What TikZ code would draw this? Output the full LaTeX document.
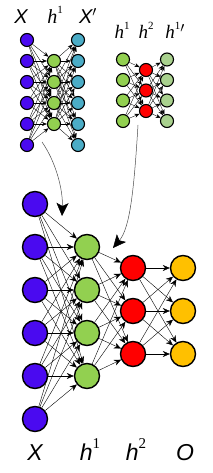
\documentclass[tikz,border=0pt]{standalone}
\usepackage{fontspec}
\setmainfont{Liberation Serif}
\setsansfont{Liberation Sans}
\usetikzlibrary{arrows.meta}
\definecolor{cblue}{HTML}{4A0AF0}
\definecolor{ccyan}{HTML}{4BACC6}
\definecolor{cgreen}{HTML}{92D050}
\definecolor{clgreen}{HTML}{A9D18E}
\definecolor{cred}{HTML}{FF0000}
\definecolor{cyel}{HTML}{FFC000}
\newcommand\mysup[2]{\raisebox{0.5em}{\fontsize{#1}{#1}\selectfont\rmfamily\upshape #2}}
\tikzset{
  sn/.style={circle,draw=black,line width=1.1pt,minimum size=13pt,inner sep=0pt},
  bn/.style={circle,draw=black,line width=1.4pt,minimum size=25pt,inner sep=0pt},
  sedge/.style={line width=0.35pt,-{Stealth[length=5pt,width=4pt]}},
  bedge/.style={line width=0.4pt,-{Stealth[length=7pt,width=6pt]}},
  bigarrow/.style={line width=0.5pt,draw=black!70,-{Stealth[length=13pt,width=12pt,inset=3pt,fill=black,color=black]}},
  lbl/.style={anchor=base,inner sep=0pt}
}
\begin{document}
\begin{tikzpicture}[x=1pt,y=-1pt]
\useasboundingbox (0,0) rectangle (212,473);
% top-left autoencoder
\foreach \i/\y in {1/40,2/61,3/82,4/103,5/124,6/145}{
  \node[sn,fill=cblue] (tx\i) at (27,\y) {};
  \node[sn,fill=ccyan] (txp\i) at (78,\y) {};
}
\foreach \i/\y in {1/61,2/82,3/103,4/124}
  \node[sn,fill=cgreen] (th\i) at (54,\y) {};
\foreach \i in {1,...,6}{\foreach \j in {1,...,4}{
  \draw[sedge] (tx\i) -- (th\j);
  \draw[sedge] (th\j) -- (txp\i);
}}
% top-right autoencoder
\foreach \i/\y in {1/59.5,2/80,3/100.5,4/121}{
  \node[sn,fill=cgreen] (rh\i) at (123,\y) {};
  \node[sn,fill=clgreen] (rhp\i) at (167,\y) {};
}
\foreach \i/\y in {1/70,2/90.5,3/111}
  \node[sn,fill=cred] (rk\i) at (146,\y) {};
\foreach \i in {1,...,4}{\foreach \j in {1,...,3}{
  \draw[sedge] (rh\i) -- (rk\j);
  \draw[sedge] (rk\j) -- (rhp\i);
}}
% bottom network
\foreach \i/\y in {1/204,2/247,3/290,4/333,5/376,6/419}
  \node[bn,fill=cblue] (bx\i) at (35,\y) {};
\foreach \i/\y in {1/247,2/290,3/333,4/376}
  \node[bn,fill=cgreen] (bh\i) at (87,\y) {};
\foreach \i/\y in {1/268,2/311,3/354}{
  \node[bn,fill=cred] (bk\i) at (133,\y) {};
  \node[bn,fill=cyel] (bo\i) at (183,\y) {};
}
\foreach \i in {1,...,6}{\foreach \j in {1,...,4}{
  \draw[bedge] (bx\i) -- (bh\j);
}}
\foreach \i in {1,...,4}{\foreach \j in {1,...,3}{
  \draw[bedge] (bh\i) -- (bk\j);
}}
\foreach \i in {1,...,3}{\foreach \j in {1,...,3}{
  \draw[bedge] (bk\i) -- (bo\j);
}}
% curved arrows
\coordinate (a1s) at (42,142);
\coordinate (a1e) at (62,216);
\coordinate (a2s) at (138,125);
\coordinate (a2e) at (113,248);
\draw[bigarrow] (a1s) .. controls (56,162) and (63,190) .. (a1e);
\draw[bigarrow] (a2s) .. controls (134,190) and (130,228) .. (a2e);
% labels
\node[lbl] (lt1) at (21,24) {\fontsize{20}{20}\selectfont\sffamily\itshape X};
\node[lbl] (lt2) at (55,24) {\fontsize{20}{20}\selectfont\rmfamily\itshape h\mysup{11}{1}};
\node[lbl] (lt3) at (88,24) {\fontsize{20}{20}\selectfont\sffamily\itshape X$'$};
\node[lbl] (lr1) at (122,39) {\fontsize{19}{19}\selectfont\rmfamily\itshape h\mysup{11}{1}};
\node[lbl] (lr2) at (146,39) {\fontsize{19}{19}\selectfont\rmfamily\itshape h\mysup{11}{2}};
\node[lbl] (lr3) at (175,39) {\fontsize{19}{19}\selectfont\rmfamily\itshape h\mysup{11}{1}$'$};
\node[lbl] (lb1) at (35,460) {\fontsize{23}{23}\selectfont\sffamily\itshape X};
\node[lbl] (lb2) at (90,460) {\fontsize{23}{23}\selectfont\sffamily\itshape h\mysup{15}{1}};
\node[lbl] (lb3) at (136,460) {\fontsize{23}{23}\selectfont\sffamily\itshape h\mysup{15}{2}};
\node[lbl] (lb4) at (185,460) {\fontsize{23}{23}\selectfont\sffamily\itshape O};
\end{tikzpicture}
\end{document}
